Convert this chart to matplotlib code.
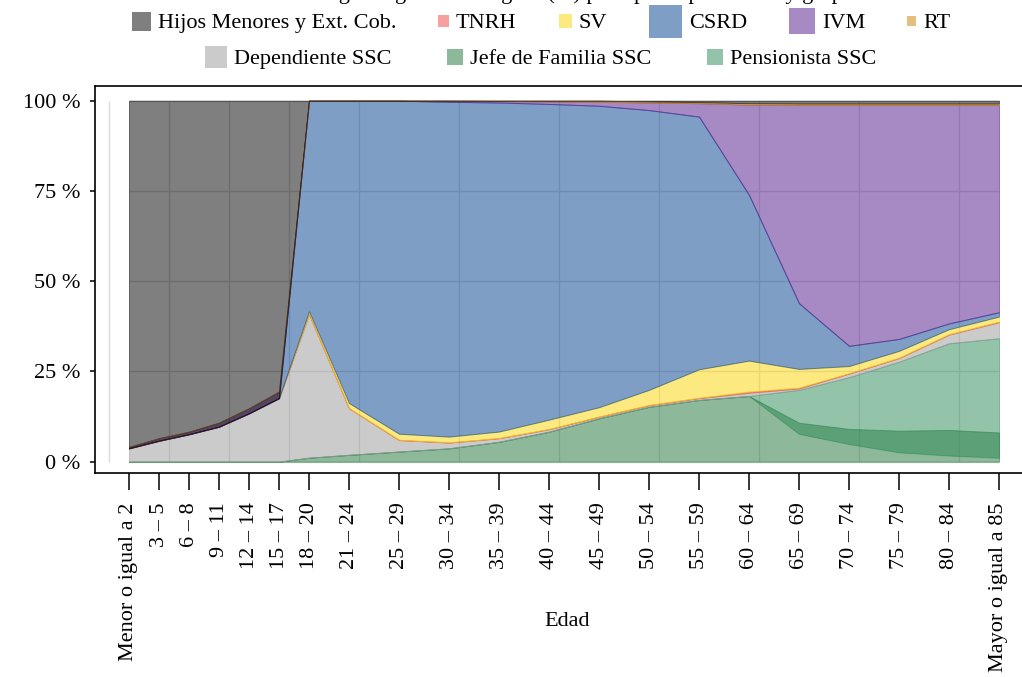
import numpy as np
import matplotlib

matplotlib.use("Agg")
import matplotlib.pyplot as plt
from matplotlib.patches import Rectangle

plt.rcParams["font.family"] = ["Liberation Serif", "DejaVu Serif"]

# grupos de edad y edad superior de cada grupo (posición en el eje x)
grupos = ["Menor o igual a 2", "3 – 5", "6 – 8", "9 – 11", "12 – 14", "15 – 17", "18 – 20",
          "21 – 24", "25 – 29", "30 – 34", "35 – 39", "40 – 44", "45 – 49", "50 – 54",
          "55 – 59", "60 – 64", "65 – 69", "70 – 74", "75 – 79", "80 – 84", "Mayor o igual a 85"]
edad_sup = [2, 5, 8, 11, 14, 17, 20, 24, 29, 34, 39, 44, 49, 54, 59, 64, 69, 74, 79, 84, 89]

# porcentajes por régimen (orden de apilado, de abajo hacia arriba)
jefe = [0, 0, 0, 0, 0, 0, 1.1, 1.9, 2.8, 3.7, 5.5, 8.3, 12.0, 15.2, 17.1, 18.2,
        10.8, 9.1, 8.6, 8.8, 8.1]
pensionista = [0, 0, 0, 0, 0, 0, 0, 0, 0, 0, 0, 0, 0, 0, 0, 0,
               12.2, 18.5, 25.1, 31.1, 33.1]
solape_jefe_pens = [0, 0, 0, 0, 0, 0, 0, 0, 0, 0, 0, 0, 0, 0, 0, 0,
                    3.1, 4.2, 6.0, 7.1, 7.0]
dependiente = [3.7, 5.8, 7.6, 9.7, 13.4, 17.6, 39.8, 12.9, 3.2, 1.6, 1.0, 0.7, 0.45, 0.45,
               0.5, 0.9, 0.4, 1.0, 1.0, 2.4, 4.45]
tnrh = [0, 0, 0, 0, 0, 0, 0.05, 0.05, 0.05, 0.05, 0.05, 0.05, 0.05, 0.05,
        0.1, 0.3, 0.2, 0.1, 0.1, 0.1, 0.15]
sv = [0, 0, 0, 0, 0, 0, 0.7, 1.4, 1.7, 1.6, 1.8, 2.6, 2.6, 4.2, 7.9, 8.6,
      5.2, 2.0, 1.9, 1.4, 1.4]
csrd = [0, 0, 0, 0, 0, 0, 58.35, 83.75, 92.25, 92.75, 91.15, 87.45, 83.5, 77.5, 70.0, 45.9,
        18.2, 5.6, 3.3, 1.6, 1.2]
ivm = [0.4, 0.7, 0.7, 1.1, 1.4, 1.8, 0, 0, 0, 0.3, 0.4, 0.7, 1.1, 2.1, 3.7, 25.0,
       54.9, 66.7, 64.8, 60.5, 57.4]
rt = [0, 0, 0, 0, 0, 0, 0, 0, 0, 0, 0.1, 0.2, 0.3, 0.3, 0.3, 0.4,
      0.4, 0.4, 0.4, 0.4, 0.4]
hijos = [96.3, 94.2, 92.4, 90.3, 86.6, 82.4, 0, 0, 0, 0, 0, 0, 0, 0.2, 0.4, 0.7,
         0.8, 0.8, 0.8, 0.8, 0.8]
solape_hijos = [0.4, 0.7, 0.7, 1.1, 1.4, 1.8, 0, 0, 0, 0, 0, 0, 0, 0, 0, 0,
                0, 0, 0, 0, 0]

ceros = [0] * len(grupos)
# (etiqueta, valores, solape con la capa inferior, color base)
capas = [
    ("Jefe de Familia SSC", jefe, ceros, "#1f7337"),
    ("Pensionista SSC", pensionista, solape_jefe_pens, "#298953"),
    ("Dependiente SSC", dependiente, ceros, "#999999"),
    ("TNRH", tnrh, ceros, "#f0433e"),
    ("SV", sv, ceros, "#fbd400"),
    ("CSRD", csrd, ceros, "#003f8f"),
    ("IVM", ivm, ceros, "#511789"),
    ("RT", rt, ceros, "#cd8100"),
    ("Hijos Menores y Ext. Cob.", hijos, solape_hijos, "#000000"),
]
colores = {nombre: c for nombre, _, _, c in capas}

# orden y tamaño (px) de los cuadros de la leyenda
orden_leyenda = ["Hijos Menores y Ext. Cob.", "TNRH", "SV", "CSRD", "IVM", "RT",
                 "Dependiente SSC", "Jefe de Familia SSC", "Pensionista SSC"]
tam_leyenda = [19, 11, 13, 33, 26, 9, 22, 16.5, 16.5]

titulo = "Distribución de afiliados según régimen de seguro (%) por tipo de prestación y grupo de edad"

W, H = 1022, 677
ALPHA = 0.5
fig = plt.figure(figsize=(W / 100, H / 100), dpi=100)
ax = fig.add_axes([95 / W, (H - 473) / H, 944 / W, 387 / H])

# rejilla debajo de las áreas semitransparentes
ax.vlines([0, 6, 12, 18, 25, 35, 45, 55, 65, 75, 85], 0, 100, color="#dcdcdc", lw=1, zorder=0)
ax.hlines([0, 25, 50, 75, 100], edad_sup[0], edad_sup[-1], color="#dcdcdc", lw=1, zorder=0)

x = np.array(edad_sup, dtype=float)
base = np.zeros(len(x))
for nombre, vals, solape, color in capas:
    inf = base - np.array(solape, dtype=float)
    sup = inf + np.array(vals, dtype=float)
    ax.fill_between(x, inf, sup, facecolor=color, edgecolor=color, alpha=ALPHA,
                    linewidth=0.7, zorder=1)
    base = sup

ax.set_xlim(-1.4, 93.0)
ax.set_ylim(-3.13, 104.07)
ax.set_xticks(edad_sup)
ax.set_xticklabels(grupos, rotation=90, fontsize=16)
ax.set_yticks([0, 25, 50, 75, 100])
ax.set_yticklabels(["0 %", "25 %", "50 %", "75 %", "100 %"], fontsize=16)
ax.tick_params(axis="x", length=12, width=1.1, pad=9, color="black")
ax.tick_params(axis="y", length=3.6, width=1.1, pad=7, color="black")
for s in ["left", "top", "bottom"]:
    ax.spines[s].set_linewidth(1.2)
ax.spines["right"].set_visible(False)

ax.set_xlabel("Edad", fontsize=16, va="center")
ax.xaxis.set_label_coords(0.5, (473 - 621) / 387)

# título (queda recortado en el borde superior, como en el original)
fig.text(0.5, 1 + 1 / H, titulo, ha="center", va="baseline", fontsize=16)

# leyenda en dos filas con cuadros de tamaño variable
renderer = fig.canvas.get_renderer()
filas = [(orden_leyenda[:6], tam_leyenda[:6], 21, 42), (orden_leyenda[6:], tam_leyenda[6:], 57, 55)]
for etiquetas, tams, yc, hueco in filas:
    textos = [fig.text(0, 0, e, fontsize=16, ha="left", va="center_baseline") for e in etiquetas]
    anchos = [t.get_window_extent(renderer).width for t in textos]
    total = sum(s + 7 + w for s, w in zip(tams, anchos)) + hueco * (len(etiquetas) - 1)
    xp = 541 - total / 2
    for e, s, w, t in zip(etiquetas, tams, anchos, textos):
        fig.add_artist(Rectangle((xp / W, (H - yc - s / 2) / H), s / W, s / H,
                                 transform=fig.transFigure, facecolor=colores[e],
                                 alpha=ALPHA, linewidth=0))
        t.set_position(((xp + s + 7) / W, (H - yc) / H))
        xp += s + 7 + w + hueco

fig.savefig("out.png", dpi=100)
